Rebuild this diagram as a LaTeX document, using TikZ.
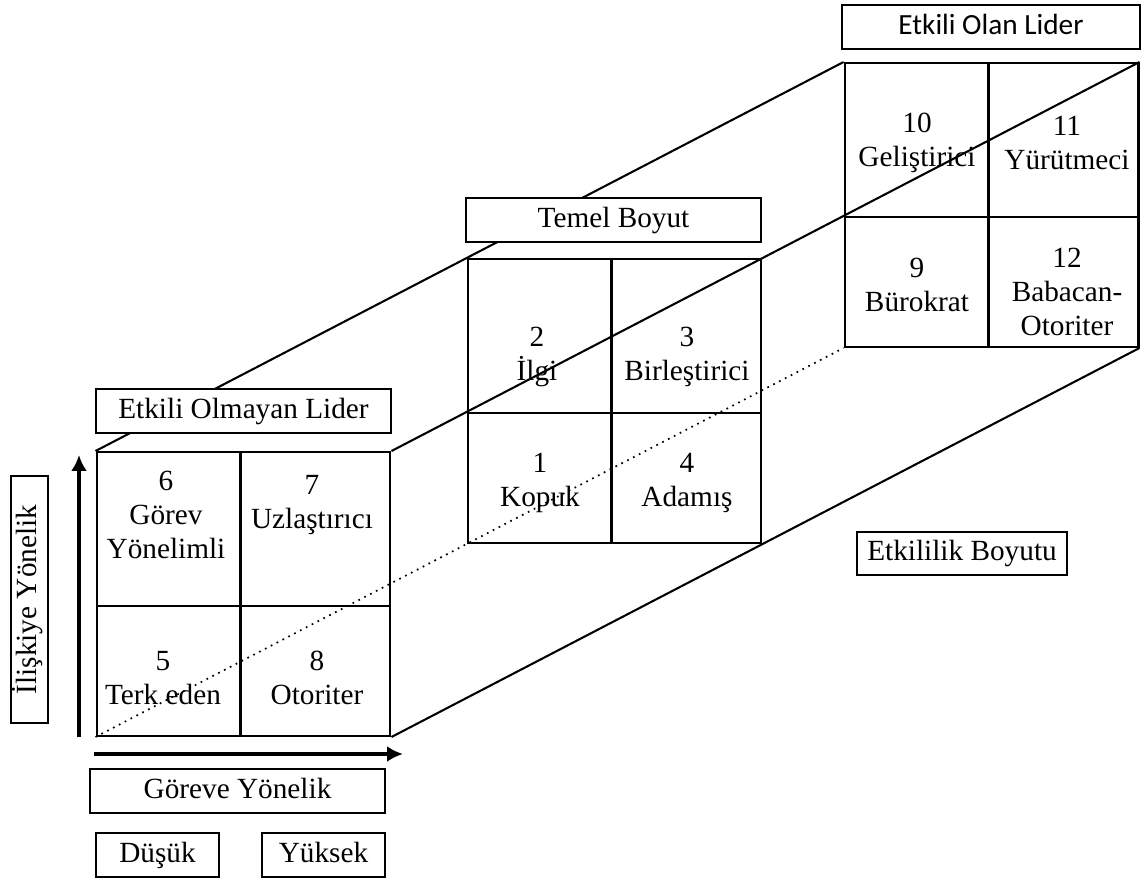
\documentclass[tikz,border=0pt]{standalone}
\usepackage{fontspec}
\setmainfont{Liberation Serif}
\newfontfamily\calibrifont{Carlito}
\usetikzlibrary{arrows.meta,calc}

\begin{document}
\begin{tikzpicture}[x=0.41pt,y=-0.41pt,font=\fontsize{12}{13.8}\selectfont,>={Latex[length=6.5pt,width=6.5pt]},
 face/.style={draw,line width=.85pt,minimum width=120.5pt,minimum height=116.4pt,inner sep=0pt},
 lbl/.style={draw,fill=white,line width=.85pt,minimum height=18pt,inner sep=2pt,text height=8.6pt,text depth=2.6pt},
 cell/.style={align=center,inner sep=0pt},
 edge/.style={line width=.85pt},
 arr/.style={->,line width=1.3pt}]
\useasboundingbox (0,0) rectangle (1145,884);
\node[face] (front) at (243.5,594) {};
\node[face] (mid) at (614.5,401) {};
\node[face] (back) at (991.5,205) {};
\foreach \f in {front,mid,back}{
 \draw[edge] ($(\f.north west)+(145,0)$) -- ($(\f.south west)+(145,0)$);
 \draw[edge] ($(\f.north west)+(0,155)$) -- ($(\f.north east)+(0,155)$);
}
\draw[edge] (front.north west)--(back.north west); \draw[edge] (front.north east)--(back.north east);
\draw[edge] (front.south east)--(back.south east);
\draw[dotted,line width=.7pt] (front.south west)--(back.south west);

\node[cell] (c6) at (166,515) {6\\Görev\\Yönelimli};
\node[cell] (c7) at (312,505) {7\\Uzlaştırıcı};
\node[cell] (c5) at (163,678) {5\\Terk eden};
\node[cell] (c8) at (317,678) {8\\Otoriter};
\node[cell] (c2) at (537,357) {2\\İlgi};
\node[cell] (c3) at (687,357) {3\\Birleştirici};
\node[cell] (c1) at (540,483) {1\\Kopuk};
\node[cell] (c4) at (687,483) {4\\Adamış};
\node[cell] (c10) at (917,143) {10\\Geliştirici};
\node[cell] (c11) at (1067,143) {11\\Yürütmeci};
\node[cell] (c9) at (917,285) {9\\Bürokrat};
\node[cell] (c12) at (1067,292) {12\\Babacan-\\Otoriter};

\node[lbl,minimum width=122.2pt,font=\calibrifont\fontsize{12}{13.8}\selectfont] (olan) at (991,27) {Etkili Olan Lider};
\node[lbl,minimum width=121pt] (temel) at (613.5,220) {Temel Boyut};
\node[lbl,minimum width=121pt] (olmayan) at (243.5,411) {Etkili Olmayan Lider};
\node[lbl,minimum width=86pt] (etkililik) at (962,553.5) {Etkililik Boyutu};
\node[lbl,minimum width=121pt] (goreve) at (237.5,791) {Göreve Yönelik};
\node[lbl,minimum width=50.4pt] (dusuk) at (157.5,855) {Düşük};
\node[lbl,minimum width=50.4pt] (yuksek) at (323.5,855) {Yüksek};
\node[lbl,rotate=90,minimum width=101.3pt,minimum height=15.2pt] (iliskiye) at (29.5,599.5) {İlişkiye Yönelik};

\coordinate (ybot) at (79,737); \coordinate (ytop) at (79,455);
\coordinate (xleft) at (94,754); \coordinate (xright) at (403,754);
\draw[arr] (ybot)--(ytop); \draw[arr] (xleft)--(xright);
\end{tikzpicture}
\end{document}
